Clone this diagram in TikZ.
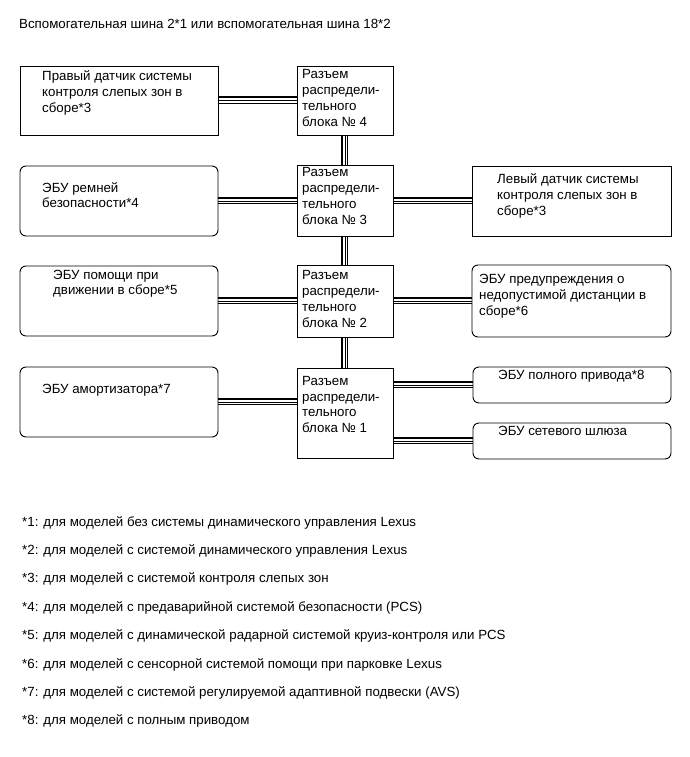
\documentclass[tikz,border=0pt]{standalone}
\usepackage{fontspec}
\setmainfont{Liberation Sans}
\usetikzlibrary{positioning,calc}

\tikzset{
  sq/.style={draw, line width=0.9pt, minimum width=198, inner sep=0, outer sep=0},
  rd/.style={sq, rounded corners=6},
  blk/.style={sq, minimum width=96},
  txt/.style={anchor=north west, align=left, inner sep=0},
  hbus/.style={preaction={draw, line width=2pt, transform canvas={yshift=3pt}},
    postaction={draw, line width=0.9pt, transform canvas={yshift=-0.4pt}},
    postaction={draw, line width=0.9pt, transform canvas={yshift=-2.8pt}}},
  vbus/.style={preaction={draw, line width=2pt, transform canvas={xshift=-3pt}},
    postaction={draw, line width=0.9pt, transform canvas={xshift=0.4pt}},
    postaction={draw, line width=0.9pt, transform canvas={xshift=2.8pt}}}
}

\begin{document}
\begin{tikzpicture}[x=1pt,y=-1pt,font=\fontsize{13.3}{16}\selectfont]
\useasboundingbox (0,0) rectangle (690,757);
\node[txt] (title) at (19,19.5) {Вспомогательная шина 2*1 или вспомогательная шина 18*2};

% connector blocks
\node[blk, minimum height=69] (blk4) at (345,100.5) {};
\node[blk, minimum height=71] (blk3) at (345,200.5) {};
\node[blk, minimum height=72] (blk2) at (345,301) {};
\node[blk, minimum height=90] (blk1) at (345,413) {};
\node[txt] (blk4t) at (302,69.5) {Разъем\\распредели-\\тельного\\блока № 4};
\node[txt] (blk3t) at (302,167.5) {Разъем\\распредели-\\тельного\\блока № 3};
\node[txt] (blk2t) at (302,270.5) {Разъем\\распредели-\\тельного\\блока № 2};
\node[txt, font=\fontsize{13.3}{15.5}\selectfont] (blk1t) at (302,376.5) {Разъем\\распредели-\\тельного\\блока № 1};

% left side
\node[sq, minimum height=69] (rbsd) at (119,100.5) {};
\node[rd, minimum height=70] (seatb) at (119,201) {};
\node[rd, minimum height=70] (drv) at (119,301) {};
\node[rd, minimum height=70] (abs) at (119,402) {};
\node[txt] (rbsdt) at (42,70.5) {Правый датчик системы\\контроля слепых зон в\\сборе*3};
\node[txt, font=\fontsize{13.3}{15}\selectfont] (seatbt) at (42,182.5) {ЭБУ ремней\\безопасности*4};
\node[txt, font=\fontsize{13.3}{14.5}\selectfont] (drvt) at (53,270.5) {ЭБУ помощи при\\движении в сборе*5};
\node[txt] (abst) at (42,384.5) {ЭБУ амортизатора*7};

% right side
\node[sq, minimum width=199, minimum height=70] (lbsd) at (571.5,201) {};
\node[rd, minimum width=199, minimum height=72] (cls) at (571.5,301) {};
\node[rd, minimum height=36] (awd) at (572,385) {};
\node[rd, minimum height=36] (gw) at (572,441) {};
\node[txt] (lbsdt) at (497,173.5) {Левый датчик системы\\контроля слепых зон в\\сборе*3};
\node[txt] (clst) at (479,274.5) {ЭБУ предупреждения о\\недопустимой дистанции в\\сборе*6};
\node[txt] (awdt) at (498,370.5) {ЭБУ полного привода*8};
\node[txt] (gwt) at (498,426.5) {ЭБУ сетевого шлюза};

% buses
\path[hbus] (rbsd.east) -- (rbsd.east -| blk4.west);
\path[hbus] (seatb.east) -- (seatb.east -| blk3.west);
\path[hbus] (blk3.east |- lbsd.west) -- (lbsd.west);
\path[hbus] (drv.east) -- (drv.east -| blk2.west);
\path[hbus] (blk2.east |- cls.west) -- (cls.west);
\path[hbus] (abs.east) -- (abs.east -| blk1.west);
\path[hbus] (blk1.east |- awd.west) -- (awd.west);
\path[hbus] (blk1.east |- gw.west) -- (gw.west);
\path[vbus] (blk4.south) -- (blk3.north);
\path[vbus] (blk3.south) -- (blk2.north);
\path[vbus] (blk2.south) -- (blk1.north);

% notes
\foreach \i/\t in {1/{для моделей без системы динамического управления Lexus},
  2/{для моделей с системой динамического управления Lexus},
  3/{для моделей с системой контроля слепых зон},
  4/{для моделей с предаварийной системой безопасности (PCS)},
  5/{для моделей с динамической радарной системой круиз-контроля или PCS},
  6/{для моделей с сенсорной системой помощи при парковке Lexus},
  7/{для моделей с системой регулируемой адаптивной подвески (AVS)},
  8/{для моделей с полным приводом}}
  \node[txt] (fn\i) at (22,{516+28.4*(\i-1)}) {*\i: \t};
\end{tikzpicture}
\end{document}
